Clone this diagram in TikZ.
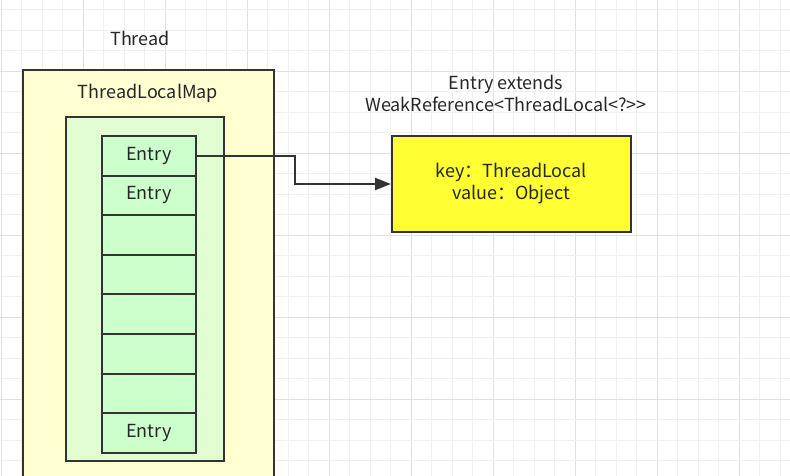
\documentclass[tikz,border=0pt]{standalone}
\usepackage{fontspec}
\setmainfont[Ligatures=TeXReset]{Noto Sans CJK SC}
\usepackage{xcolor}
\usetikzlibrary{positioning, arrows.meta, calc}
\definecolor{threadfill}{HTML}{FFFFD2}
\definecolor{mapfill}{HTML}{E2FCD4}
\definecolor{entryfill}{HTML}{CCFFCC}
\definecolor{valfill}{HTML}{FFFF33}
\definecolor{boxline}{HTML}{333333}
\definecolor{textgray}{HTML}{262626}
\definecolor{gridminor}{HTML}{F0F0F0}
\definecolor{gridmajor}{HTML}{E0E0E0}

\begin{document}
\begin{tikzpicture}[x=1pt, y=-1pt, font=\fontsize{18}{22}\selectfont, text=textgray,
    box/.style={draw=boxline, line width=2pt, inner sep=0pt, anchor=north west},
    entrybox/.style={box, fill=entryfill, minimum width=94pt, minimum height=39.6pt}]
  \useasboundingbox (0,0) rectangle (790,476);
  \clip (0,0) rectangle (790,476);
  % background grid
  \foreach \i in {0,...,38} {
    \pgfmathsetmacro{\gc}{mod(\i,4)==0 ? 1 : 0}
    \ifdim\gc pt>0pt \draw[gridmajor, line width=0.9pt] (1+20.5*\i,0) -- ++(0,476);
    \else \draw[gridminor, line width=0.8pt] (1+20.5*\i,0) -- ++(0,476); \fi
  }
  \foreach \j in {0,...,23} {
    \pgfmathsetmacro{\gc}{mod(\j,4)==3 ? 1 : 0}
    \ifdim\gc pt>0pt \draw[gridmajor, line width=0.9pt] (0,9.5+20.5*\j) -- ++(790,0);
    \else \draw[gridminor, line width=0.8pt] (0,9.5+20.5*\j) -- ++(790,0); \fi
  }

  \node (threadlbl) at (140,38) {Thread};
  \node[box, fill=threadfill, minimum width=251pt, minimum height=440pt] (thread) at (22,69) {};
  \node (maplbl) at (148,93) {ThreadLocalMap};
  \node[box, fill=mapfill, minimum width=158pt, minimum height=344pt] (map) at (65,116) {};

  % entry table
  \foreach \k/\txt in {1/Entry, 2/Entry, 3/, 4/, 5/, 6/, 7/, 8/Entry}
    \node[entrybox] (e\k) at (101,{135+39.6*(\k-1)}) {\txt};

  \node[align=center] (extlbl) at (506,93) {Entry extends\\WeakReference<{}ThreadLocal<{}?>{}>};
  \node[box, fill=valfill, minimum width=239pt, minimum height=96pt, align=center] (val) at (391,135)
    {key：ThreadLocal\\value：Object};

  \draw[draw=boxline, line width=2pt, -{Triangle[length=16pt, width=12pt]}]
    (e1.east) -- ++(98,0) |- (val.west);
\end{tikzpicture}
\end{document}
